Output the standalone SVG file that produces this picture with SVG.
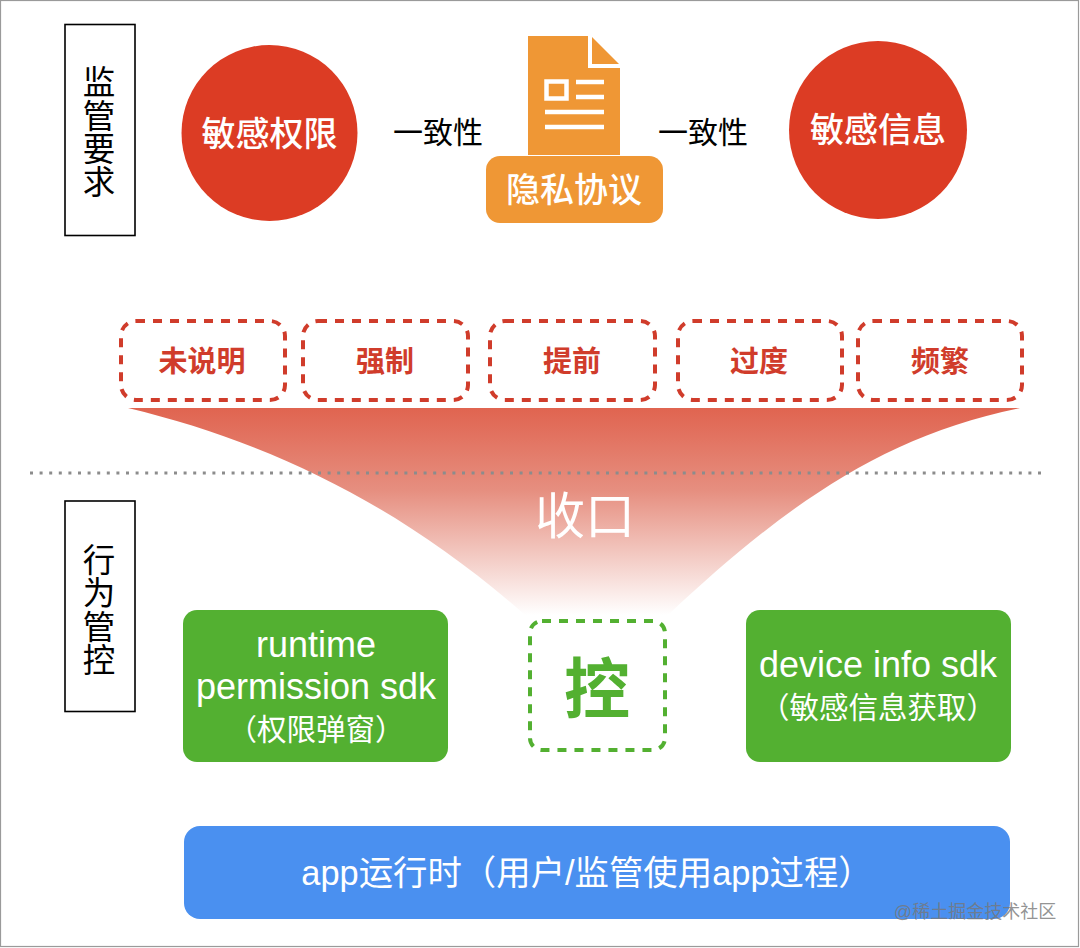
<svg xmlns="http://www.w3.org/2000/svg" width="1080" height="948" viewBox="0 0 1080 948">
<style>
text{font-family:"Liberation Sans","Noto Sans CJK SC",sans-serif;text-anchor:middle}
.side{fill:#fff;stroke:#000;stroke-width:1.6}
.sidet{font-size:32.500px;fill:#000}
.circ{fill:#dc3c24}
.w{fill:#fff}
.dash{fill:#fff;stroke:#d03c2b;stroke-width:4;stroke-dasharray:9 8}
.rt{font-size:29px;font-weight:700;fill:#d03c2b}
.g{fill:#53b031}
.gt{fill:#fff;font-size:36px}
.gc{fill:#fff;font-size:29.500px}
.cjk{font-size:30px;fill:#000}
</style>
<defs>
<linearGradient id="funnel" x1="0" y1="408" x2="0" y2="615" gradientUnits="userSpaceOnUse">
<stop offset="0" stop-color="#e06450"/>
<stop offset="0.4" stop-color="#e68f80"/>
<stop offset="1" stop-color="#e68f80" stop-opacity="0"/>
</linearGradient>
</defs>
<rect x="0.5" y="0.5" width="1078" height="946" fill="#fff" stroke="#9a9a9a" stroke-width="1.2"/>
<g id="funnel-shape">
<path d="M128 408H1020C880 436 780 510 668 615H525C400 505 270 442 128 408Z" fill="url(#funnel)"/>
</g>
<g id="connectors">
<line x1="30" y1="473" x2="1044" y2="473" stroke="#8c8c8c" stroke-width="3" stroke-dasharray="3 6.6"/>
</g>
<g id="req"><rect class="side" x="65" y="24.500" width="70" height="211"/>
<text class="sidet" x="99" y="94">监</text><text class="sidet" x="99" y="128">管</text><text class="sidet" x="99" y="161">要</text><text class="sidet" x="99" y="194">求</text></g>
<g id="perm"><circle class="circ" cx="269.500" cy="133" r="88"/><text x="269.500" y="146" font-size="34" font-weight="500" class="w">敏感权限</text></g>
<g id="consistent-left"><text class="cjk" x="438" y="143">一致性</text></g>
<g id="doc">
<path d="M528 36H588V68H620V155H528Z" fill="#ef9735"/>
<path d="M592 37L619 64H592Z" fill="#ef9735"/>
<g fill="none" stroke="#fff" stroke-width="4.500">
<rect x="546.500" y="81.500" width="20" height="17"/>
<path d="M576 82H604M576 97H604M545 112H604M545 127H604"/>
</g>
<rect x="486" y="156" width="177" height="67" rx="14" fill="#ef9735"/>
<text x="574" y="202" font-size="34" font-weight="500" class="w">隐私协议</text>
</g>
<g id="consistent-right"><text class="cjk" x="703" y="143">一致性</text></g>
<g id="info"><circle class="circ" cx="878" cy="130" r="89"/><text x="878" y="142" font-size="34" font-weight="500" class="w">敏感信息</text></g>
<g id="t1"><rect class="dash" x="121" y="321" width="164" height="79" rx="15"/><text class="rt" x="202" y="372">未说明</text></g>
<g id="t2"><rect class="dash" x="303" y="321" width="165" height="79" rx="15"/><text class="rt" x="385" y="372">强制</text></g>
<g id="t3"><rect class="dash" x="490" y="321" width="165" height="79" rx="15"/><text class="rt" x="572" y="372">提前</text></g>
<g id="t4"><rect class="dash" x="678" y="321" width="164" height="79" rx="15"/><text class="rt" x="759" y="372">过度</text></g>
<g id="t5"><rect class="dash" x="858" y="321" width="164" height="79" rx="15"/><text class="rt" x="940" y="372">频繁</text></g>
<g id="narrow"><text x="585" y="534" font-size="50" class="w">收口</text></g>
<g id="beh"><rect class="side" x="65" y="501" width="70" height="210.500"/>
<text class="sidet" x="99" y="572">行</text><text class="sidet" x="99" y="605">为</text><text class="sidet" x="99" y="639">管</text><text class="sidet" x="99" y="672">控</text></g>
<g id="runtime"><rect class="g" x="183" y="610" width="265" height="152" rx="14"/>
<text class="gt" x="316" y="657">runtime</text><text class="gt" x="316" y="699">permission sdk</text><text class="gc" x="316" y="740">（权限弹窗）</text></g>
<g id="ctrl"><rect x="530" y="621" width="135" height="129" rx="12" fill="#fff" stroke="#53b031" stroke-width="4" stroke-dasharray="9 8"/>
<text x="597" y="713" font-size="66" font-weight="700" fill="#53b031">控</text></g>
<g id="device"><rect class="g" x="746" y="610" width="265" height="152" rx="14"/>
<text class="gt" x="878" y="677">device info sdk</text><text class="gc" x="878" y="718">（敏感信息获取）</text></g>
<g id="app"><rect x="184" y="826" width="826" height="93" rx="16" fill="#4a90f0"/>
<text x="587" y="885" font-size="34.400" class="w">app运行时（用户/监管使用app过程）</text></g>
<g id="watermark"><text x="975" y="918" font-size="18" fill="#777" fill-opacity="0.8">@稀土掘金技术社区</text></g>
</svg>
